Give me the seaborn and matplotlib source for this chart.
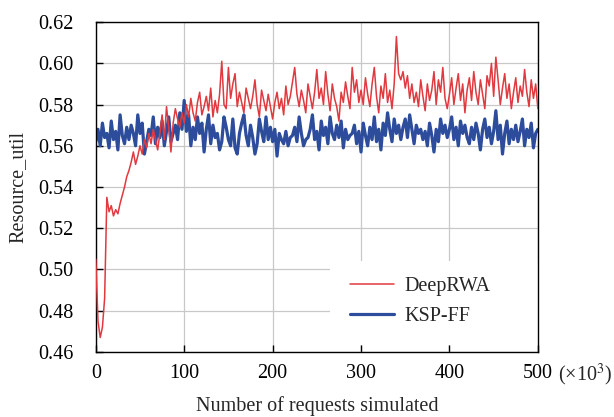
import numpy as np
import pandas as pd
import matplotlib
matplotlib.use("Agg")
import matplotlib.pyplot as plt
from matplotlib.lines import Line2D
from matplotlib.patches import Rectangle
import seaborn as sns

x_step = 2.5
deeprwa = [
    0.505, 0.475, 0.467, 0.472, 0.486, 0.535, 0.528, 0.531, 0.526, 0.529,
    0.527, 0.532, 0.536, 0.540, 0.545, 0.548, 0.552, 0.557, 0.551, 0.555,
    0.560, 0.556, 0.563, 0.559, 0.566, 0.561, 0.568, 0.563, 0.558, 0.566,
    0.575, 0.563, 0.579, 0.569, 0.557, 0.571, 0.578, 0.573, 0.569, 0.576,
    0.571, 0.580, 0.574, 0.583, 0.576, 0.572, 0.581, 0.586, 0.575, 0.579,
    0.584, 0.577, 0.588, 0.574, 0.582, 0.576, 0.585, 0.601, 0.580, 0.578,
    0.598, 0.583, 0.590, 0.595, 0.579, 0.586, 0.581, 0.576, 0.588, 0.583,
    0.578, 0.584, 0.592, 0.580, 0.574, 0.587, 0.582, 0.577, 0.585, 0.579,
    0.573, 0.581, 0.586, 0.578, 0.583, 0.575, 0.589, 0.580, 0.584, 0.591,
    0.598, 0.585, 0.579, 0.587, 0.582, 0.576, 0.590, 0.584, 0.578, 0.586,
    0.597, 0.583, 0.588, 0.580, 0.596, 0.585, 0.577, 0.590, 0.583, 0.579,
    0.572, 0.586, 0.581, 0.591, 0.584, 0.578, 0.598, 0.586, 0.592, 0.581,
    0.587, 0.580, 0.593, 0.585, 0.579, 0.590, 0.598, 0.584, 0.576, 0.589,
    0.583, 0.595, 0.581, 0.587, 0.578, 0.590, 0.613, 0.595, 0.592, 0.596,
    0.588, 0.594, 0.583, 0.590, 0.581, 0.586, 0.579, 0.592, 0.584, 0.577,
    0.590, 0.582, 0.587, 0.596, 0.580, 0.592, 0.586, 0.598, 0.583, 0.578,
    0.585, 0.593, 0.580, 0.588, 0.595, 0.582, 0.590, 0.576, 0.587, 0.593,
    0.582, 0.596, 0.586, 0.580, 0.592, 0.585, 0.578, 0.594, 0.589, 0.600,
    0.584, 0.603, 0.592, 0.580, 0.588, 0.595, 0.583, 0.590, 0.578, 0.586,
    0.593, 0.581, 0.589, 0.584, 0.597, 0.586, 0.579, 0.592, 0.583, 0.590,
    0.578,
]
kspff = [
    0.562, 0.568, 0.560, 0.571, 0.564, 0.566, 0.559, 0.572, 0.563, 0.567,
    0.558, 0.575, 0.565, 0.561, 0.569, 0.563, 0.570, 0.566, 0.560, 0.575,
    0.566, 0.571, 0.556, 0.562, 0.568, 0.565, 0.574, 0.561, 0.569, 0.564,
    0.572, 0.560, 0.567, 0.574, 0.562, 0.566, 0.570, 0.563, 0.576, 0.568,
    0.582, 0.567, 0.575, 0.560, 0.569, 0.563, 0.574, 0.566, 0.571, 0.557,
    0.568, 0.575, 0.561, 0.570, 0.564, 0.566, 0.558, 0.562, 0.574, 0.569,
    0.563, 0.560, 0.573, 0.559, 0.556, 0.566, 0.571, 0.575, 0.565, 0.560,
    0.570, 0.564, 0.556, 0.561, 0.573, 0.567, 0.562, 0.574, 0.563, 0.569,
    0.562, 0.568, 0.555, 0.566, 0.563, 0.561, 0.567, 0.560, 0.564, 0.565,
    0.569, 0.562, 0.574, 0.566, 0.560, 0.563, 0.564, 0.568, 0.575, 0.563,
    0.567, 0.558, 0.572, 0.565, 0.569, 0.561, 0.574, 0.566, 0.563, 0.570,
    0.564, 0.572, 0.559, 0.568, 0.563, 0.565, 0.566, 0.570, 0.561, 0.567,
    0.557, 0.571, 0.565, 0.560, 0.569, 0.563, 0.574, 0.562, 0.568, 0.558,
    0.571, 0.565, 0.576, 0.568, 0.562, 0.573, 0.566, 0.570, 0.563, 0.569,
    0.573, 0.564, 0.575, 0.568, 0.561, 0.570, 0.566, 0.568, 0.563, 0.567,
    0.560, 0.571, 0.565, 0.557, 0.568, 0.562, 0.573, 0.566, 0.570, 0.564,
    0.568, 0.574, 0.563, 0.569, 0.560, 0.572, 0.566, 0.570, 0.564, 0.561,
    0.569, 0.563, 0.571, 0.566, 0.558, 0.568, 0.573, 0.564, 0.569, 0.561,
    0.567, 0.577, 0.563, 0.570, 0.556, 0.566, 0.572, 0.561, 0.568, 0.563,
    0.570, 0.562, 0.567, 0.573, 0.560, 0.568, 0.564, 0.571, 0.559, 0.566,
    0.568,
]
series_names = ["DeepRWA", "KSP-FF"]
x_ticks = [0, 100, 200, 300, 400, 500]
x_tick_labels = ["0", "100", "200", "300", "400", "500"]
y_ticks = [0.46, 0.48, 0.50, 0.52, 0.54, 0.56, 0.58, 0.60, 0.62]

x = np.arange(len(deeprwa)) * x_step
df = pd.concat([
    pd.DataFrame({"x": x, "y": deeprwa, "series": series_names[0]}),
    pd.DataFrame({"x": x, "y": kspff, "series": series_names[1]}),
])

sns.set_theme(style="whitegrid")
plt.rcParams["font.family"] = ["Liberation Serif", "DejaVu Serif"]
plt.rcParams["mathtext.fontset"] = "stix"

FS = 14.5
fig = plt.figure(figsize=(6.14, 4.17), dpi=100)
ax = fig.add_axes([0.156, 0.156, 0.72, 0.791])

palette = {"DeepRWA": "#e0393f", "KSP-FF": "#2d4d9c"}
sns.lineplot(data=df, x="x", y="y", hue="series", palette=palette,
             hue_order=["KSP-FF", "DeepRWA"], ax=ax, legend=False,
             size="series", sizes={"DeepRWA": 1.1, "KSP-FF": 2.3})
for line in ax.get_lines():
    line.set_zorder(3 if line.get_linewidth() < 1.5 else 2.5)

ax.set_xlim(0, 500)
ax.set_ylim(0.46, 0.62)
ax.set_xticks(x_ticks)
ax.set_xticklabels(x_tick_labels)
ax.set_yticks(y_ticks)
ax.set_yticklabels([f"{v:.2f}" for v in y_ticks])
ax.grid(True, color="#c8c8c8", linewidth=0.9)
for s in ax.spines.values():
    s.set_color("black")
    s.set_linewidth(1.0)
ax.tick_params(direction="in", length=5, width=1, colors="black",
               labelsize=FS, bottom=True, left=True)
ax.tick_params(axis="y", pad=16)
ax.tick_params(axis="x", pad=9)
ax.set_xlabel("Number of requests simulated", fontsize=FS, labelpad=9)
ax.set_ylabel("Resource_util", fontsize=FS, labelpad=8)
ax.text(1.045, -0.088, r"(×10$^3$)", transform=ax.transAxes,
        fontsize=FS, va="baseline", ha="left")

# white legend background hiding the grid
ax.add_patch(Rectangle((0.53, 0.02), 0.47, 0.255, transform=ax.transAxes,
                       facecolor="white", edgecolor="none", zorder=1))

handles = [Line2D([], [], color=palette["DeepRWA"], lw=1.1),
           Line2D([], [], color=palette["KSP-FF"], lw=2.3)]
leg = ax.legend(handles, series_names, loc="center left",
                bbox_to_anchor=(0.575, 0.153), frameon=False, fontsize=FS,
                handlelength=2.2, borderpad=0.0, labelspacing=0.55,
                handletextpad=0.5, borderaxespad=0.0)
leg.set_zorder(5)

fig.savefig("out.png", dpi=100)
